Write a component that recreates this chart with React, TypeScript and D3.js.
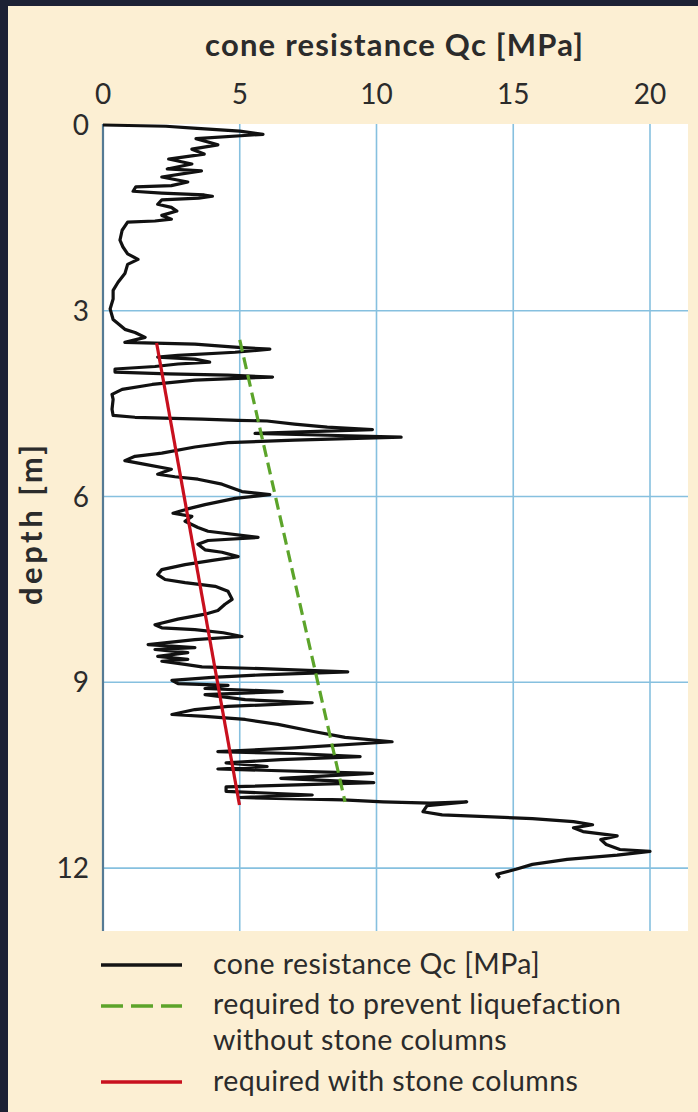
import React, { useEffect, useRef } from 'react';
import * as d3 from 'd3';

// CPT trace: depth [m] and cone resistance [MPa]
const depths = [
  0.0, 0.02, 0.05, 0.1, 0.15, 0.22, 0.32, 0.39, 0.47, 0.55, 0.63, 0.71, 0.74, 0.84, 0.92, 0.98,
  1.0, 1.07, 1.1, 1.13, 1.15, 1.18, 1.21, 1.28, 1.33, 1.39, 1.46, 1.52, 1.55, 1.57, 1.7, 1.86,
  1.97, 2.08, 2.17, 2.25, 2.4, 2.54, 2.67, 2.81, 2.97, 3.14, 3.3, 3.35, 3.43, 3.51, 3.54, 3.59,
  3.62, 3.67, 3.72, 3.75, 3.78, 3.83, 3.86, 3.9, 3.94, 3.99, 4.02, 4.04, 4.07, 4.12, 4.19, 4.27,
  4.35, 4.43, 4.59, 4.69, 4.72, 4.75, 4.77, 4.78, 4.83, 4.88, 4.92, 4.98, 5.01, 5.04, 5.09, 5.13,
  5.2, 5.3, 5.35, 5.42, 5.48, 5.56, 5.64, 5.68, 5.72, 5.8, 5.92, 5.97, 6.03, 6.13, 6.2, 6.27,
  6.32, 6.4, 6.5, 6.56, 6.66, 6.71, 6.77, 6.86, 6.9, 6.97, 7.03, 7.1, 7.18, 7.26, 7.34, 7.39,
  7.45, 7.53, 7.66, 7.74, 7.84, 7.9, 7.98, 8.07, 8.12, 8.15, 8.2, 8.26, 8.31, 8.39, 8.44, 8.47,
  8.52, 8.58, 8.63, 8.66, 8.71, 8.75, 8.78, 8.83, 8.88, 8.92, 8.97, 9.02, 9.05, 9.1, 9.15, 9.2,
  9.28, 9.33, 9.39, 9.44, 9.52, 9.55, 9.6, 9.68, 9.79, 9.89, 9.96, 10.06, 10.12, 10.15, 10.2, 10.25,
  10.3, 10.36, 10.4, 10.47, 10.55, 10.62, 10.69, 10.76, 10.82, 10.86, 10.9, 10.93, 10.95, 10.93, 10.99, 11.09,
  11.14, 11.17, 11.2, 11.25, 11.3, 11.35, 11.41, 11.48, 11.54, 11.62, 11.7, 11.73, 11.79, 11.86, 11.94, 12.02,
  12.1, 12.16,
];
const qcValues = [
  0.0, 2.3, 3.3, 5.0, 5.85, 3.4, 4.2, 3.25, 3.7, 2.4, 3.25, 2.35, 3.6, 2.15, 3.1, 2.5,
  1.2, 1.1, 2.15, 3.7, 4.0, 3.5, 2.15, 2.0, 2.5, 2.7, 2.15, 2.5, 1.9, 0.9, 0.7, 0.62,
  0.73, 0.9, 1.28, 0.9, 0.8, 0.55, 0.37, 0.37, 0.26, 0.37, 0.8, 1.17, 1.54, 0.8, 3.36, 4.94,
  6.1, 4.83, 2.74, 2.0, 3.36, 3.9, 2.74, 1.9, 0.44, 0.44, 2.38, 4.57, 6.2, 3.36, 1.8, 0.7,
  0.33, 0.37, 0.33, 0.37, 1.17, 3.62, 4.94, 6.0, 7.0, 8.2, 9.85, 5.56, 8.2, 10.9, 7.0, 4.57,
  3.36, 2.15, 1.17, 0.8, 1.54, 2.5, 2.0, 2.63, 3.47, 4.35, 5.08, 6.1, 4.83, 3.73, 3.1, 2.56,
  3.25, 3.0, 3.47, 3.84, 5.67, 3.84, 3.47, 3.73, 4.35, 4.94, 4.0, 3.0, 2.15, 2.0, 2.27, 3.0,
  4.1, 4.57, 4.72, 4.46, 4.2, 3.73, 2.74, 1.9, 2.15, 3.36, 4.4, 5.08, 3.36, 1.65, 3.36, 1.9,
  3.1, 2.0, 3.1, 2.15, 3.0, 3.62, 5.8, 8.95, 5.8, 4.0, 2.52, 2.74, 4.57, 3.73, 6.55, 3.73,
  5.2, 7.65, 4.57, 3.36, 2.52, 3.73, 5.2, 6.4, 7.65, 8.85, 10.57, 7.0, 4.2, 7.0, 9.4, 6.5,
  4.5, 6.0, 4.2, 9.85, 6.5, 9.9, 4.5, 4.5, 7.65, 5.0, 8.77, 10.24, 11.96, 13.3, 11.85, 11.7,
  12.4, 14.0, 15.7, 17.2, 17.9, 17.2, 17.55, 18.8, 18.2, 18.4, 18.9, 20.0, 18.8, 16.97, 15.7, 15.1,
  14.4, 14.5,
];

// required resistance lines (depth, qc at both ends)
const withoutColumnsDepth = [3.47, 10.93];
const withoutColumnsQc = [5.0, 8.85];
const withColumnsDepth = [3.52, 10.98];
const withColumnsQc = [1.96, 4.99];

const xTicks = [0, 5, 10, 15, 20];
const yTicks = [0, 3, 6, 9, 12];

const legendItems = [
  { lines: ['cone resistance Qc [MPa]'], color: '#141414', dash: null },
  { lines: ['required to prevent liquefaction', 'without stone columns'], color: '#5ca42a', dash: '22 8' },
  { lines: ['required with stone columns'], color: '#c8101e', dash: null },
];

const App = () => {
  const svgRef = useRef<SVGSVGElement>(null);

  useEffect(() => {
    const svg = d3.select(svgRef.current);
    svg.selectAll('*').remove();

    const width = 698;
    const height = 1112;
    const font = 'Lato, "DejaVu Sans", sans-serif';
    const textColor = '#2b2b2b';

    // background and cream panel
    svg.append('rect').attr('width', width).attr('height', height).attr('fill', '#1d2134');
    svg.append('rect')
      .attr('x', 8).attr('y', 6)
      .attr('width', width - 8).attr('height', height - 6)
      .attr('fill', '#fcefd3');

    const x = d3.scaleLinear().domain([0, 20]).range([103, 650]);
    const y = d3.scaleLinear().domain([0, 13]).range([125, 930]);
    const xMax = x.invert(688);

    // white plot area
    svg.append('rect')
      .attr('x', x(0)).attr('y', y(0) - 1)
      .attr('width', x(xMax) - x(0)).attr('height', y(13) - y(0) + 2)
      .attr('fill', '#ffffff');

    // grid
    const gridColor = '#86c0df';
    svg.append('g')
      .selectAll('line')
      .data(xTicks.filter(d => d > 0))
      .join('line')
      .attr('x1', d => x(d)).attr('x2', d => x(d))
      .attr('y1', y(0) - 1).attr('y2', y(13) + 1)
      .attr('stroke', gridColor).attr('stroke-width', 1.6);
    svg.append('g')
      .selectAll('line')
      .data(yTicks.filter(d => d > 0))
      .join('line')
      .attr('x1', x(0)).attr('x2', x(xMax))
      .attr('y1', d => y(d)).attr('y2', d => y(d))
      .attr('stroke', gridColor).attr('stroke-width', 1.6);
    svg.append('line')
      .attr('x1', x(0)).attr('x2', x(0))
      .attr('y1', y(0) - 1).attr('y2', y(13) + 1)
      .attr('stroke', '#557a94').attr('stroke-width', 2.2);

    // tick labels
    svg.append('g')
      .selectAll('text')
      .data(xTicks)
      .join('text')
      .attr('x', d => x(d)).attr('y', 104)
      .attr('text-anchor', 'middle')
      .attr('fill', textColor)
      .style('font-family', font).style('font-size', '28px')
      .text(d => d);
    svg.append('g')
      .selectAll('text')
      .data(yTicks)
      .join('text')
      .attr('x', 89).attr('y', d => y(d) + 10)
      .attr('text-anchor', 'end')
      .attr('fill', textColor)
      .style('font-family', font).style('font-size', '28px')
      .text(d => d);

    // axis titles
    svg.append('text')
      .attr('x', 394).attr('y', 56)
      .attr('text-anchor', 'middle')
      .attr('textLength', 378).attr('lengthAdjust', 'spacing')
      .attr('fill', textColor)
      .style('font-family', font).style('font-size', '31px').style('font-weight', 'bold')
      .text('cone resistance Qc [MPa]');
    svg.append('text')
      .attr('transform', 'translate(42,525) rotate(-90)')
      .attr('text-anchor', 'middle')
      .attr('textLength', 160).attr('lengthAdjust', 'spacing')
      .attr('fill', textColor)
      .style('font-family', font).style('font-size', '31px').style('font-weight', 'bold')
      .text('depth [m]');

    // CPT trace
    const trace = d3.line<number>()
      .x(d => x(d))
      .y((_, i) => y(depths[i]));
    svg.append('path')
      .attr('d', trace(qcValues))
      .attr('fill', 'none')
      .attr('stroke', '#111111')
      .attr('stroke-width', 3.2)
      .attr('stroke-linejoin', 'round');

    // required lines
    const drawReq = (qs: number[], ds: number[], color: string, dash: string | null) => {
      const path = svg.append('path')
        .attr('d', d3.line<number>().x(d => x(d)).y((_, i) => y(ds[i]))(qs))
        .attr('fill', 'none')
        .attr('stroke', color)
        .attr('stroke-width', 3.2);
      if (dash) path.attr('stroke-dasharray', dash);
    };
    drawReq(withoutColumnsQc, withoutColumnsDepth, '#5ca42a', '12 6');
    drawReq(withColumnsQc, withColumnsDepth, '#c8101e', null);

    // legend
    const rowY = [965, 1006, 1082];
    const textY = [[974], [1014], [1091]];
    legendItems.forEach((item, i) => {
      const l = svg.append('line')
        .attr('x1', 101).attr('x2', 182)
        .attr('y1', rowY[i]).attr('y2', rowY[i])
        .attr('stroke', item.color).attr('stroke-width', 3.4);
      if (item.dash) l.attr('stroke-dasharray', item.dash);
      item.lines.forEach((t, j) => {
        svg.append('text')
          .attr('x', 213).attr('y', textY[i][0] + j * 36)
          .attr('fill', textColor)
          .style('font-family', font).style('font-size', '28.5px')
          .style('letter-spacing', '0.4px')
          .text(t);
      });
    });
  }, []);

  return <svg ref={svgRef} width="698" height="1112" style={{ display: 'block', position: 'absolute', left: 0, top: 0 }}></svg>;
};

export default App;
